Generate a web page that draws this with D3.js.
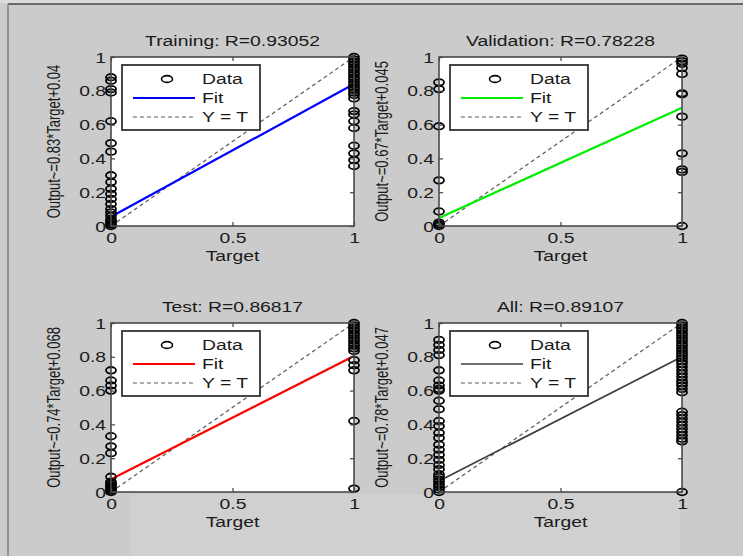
<!DOCTYPE html>
<html>
<head>
<meta charset="utf-8">
<script src="https://cdn.jsdelivr.net/npm/d3@7"></script>
<style>
  html, body { margin: 0; padding: 0; background: #cbcbcb; }
  svg { display: block; }
  text { font-family: "Liberation Sans", Arial, sans-serif; fill: #1a1a1a; }
</style>
</head>
<body>
<div id="chart"></div>
<script>
// values
const panelTitles = ["Training: R=0.93052", "Validation: R=0.78228", "Test: R=0.86817", "All: R=0.89107"];
const yLabels = ["Output~=0.83*Target+0.04", "Output~=0.67*Target+0.045", "Output~=0.74*Target+0.068", "Output~=0.78*Target+0.047"];
const fitColors = ["#0000ff", "#00ee00", "#ff0000", "#3c3c3c"];
const xTicks = [0, 0.5, 1];
const yTicks = [0, 0.2, 0.4, 0.6, 0.8, 1];
const legendLabels = ["Data", "Fit", "Y = T"];

// outputs at target 0 and target 1
const trainingAtZero = [0.88, 0.86, 0.81, 0.79, 0.62, 0.49, 0.44, 0.30, 0.26, 0.22, 0.19, 0.16, 0.13, 0.10, 0.08, 0.06, 0.04, 0.03, 0.02, 0.01, 0.0];
const trainingAtOne = [1.0, 0.985, 0.97, 0.955, 0.94, 0.925, 0.91, 0.895, 0.88, 0.865, 0.85, 0.835, 0.82, 0.805, 0.79, 0.775, 0.755, 0.68, 0.66, 0.62, 0.58, 0.475, 0.43, 0.39, 0.355];
const validationAtZero = [0.85, 0.81, 0.59, 0.27, 0.086, 0.02, 0.01, 0.0];
const validationAtOne = [0.99, 0.975, 0.96, 0.935, 0.90, 0.785, 0.78, 0.647, 0.43, 0.335, 0.32, 0.0];
const testAtZero = [0.72, 0.66, 0.63, 0.60, 0.33, 0.27, 0.23, 0.09, 0.06, 0.05, 0.04, 0.03, 0.02, 0.01, 0.0];
const testAtOne = [1.0, 0.985, 0.97, 0.955, 0.94, 0.925, 0.91, 0.895, 0.88, 0.865, 0.85, 0.835, 0.78, 0.75, 0.72, 0.42, 0.02];
const allAtZero = [0.90, 0.87, 0.84, 0.81, 0.72, 0.66, 0.63, 0.61, 0.60, 0.54, 0.49, 0.42, 0.39, 0.35, 0.32, 0.28, 0.25, 0.22, 0.19, 0.16, 0.135, 0.105, 0.09, 0.075, 0.06, 0.045, 0.03, 0.015, 0.0];
const allAtOne = [1.0, 0.985, 0.97, 0.955, 0.94, 0.925, 0.91, 0.895, 0.88, 0.865, 0.85, 0.835, 0.82, 0.805, 0.79, 0.775, 0.76, 0.74, 0.72, 0.70, 0.68, 0.66, 0.645, 0.63, 0.61, 0.59, 0.475, 0.455, 0.435, 0.415, 0.395, 0.375, 0.355, 0.335, 0.315, 0.30, 0.0];

// fit line output at target 0 and target 1
const fitEnds = [[0.055, 0.84], [0.047, 0.70], [0.075, 0.805], [0.065, 0.80]];

const atZero = [trainingAtZero, validationAtZero, testAtZero, allAtZero];
const atOne = [trainingAtOne, validationAtOne, testAtOne, allAtOne];

const W = 743, H = 556;
const SX = 1.38;       // the picture is stretched sideways
const FS = 14;

const svg = d3.select("#chart").append("svg").attr("width", W).attr("height", H);

// background and frame
svg.append("rect").attr("width", W).attr("height", H).attr("fill", "#cbcbcb");
svg.append("rect").attr("x", 130).attr("y", 494).attr("width", 550).attr("height", H - 494).attr("fill", "#d0d0d0");
svg.append("rect").attr("width", W).attr("height", 3).attr("fill", "#dcdcdc");
svg.append("line").attr("x1", 8).attr("x2", W).attr("y1", 4).attr("y2", 4)
  .attr("stroke", "#6a6a6a").attr("stroke-width", 2);
svg.append("line").attr("x1", 8).attr("x2", 8).attr("y1", 4).attr("y2", H)
  .attr("stroke", "#8a7d76").attr("stroke-width", 1.5);

function stretchedText(g, x, y, str, anchor, size) {
  return g.append("text")
    .attr("transform", `translate(${x},${y}) scale(${SX},1)`)
    .attr("text-anchor", anchor || "middle")
    .attr("font-size", size || FS)
    .text(str);
}

const colLeft = [111, 439];
const rowTop = [57, 323];
const pw = 243, ph = 169;
const fmt = d3.format("~g");

for (let i = 0; i < 4; i++) {
  const left = colLeft[i % 2], top = rowTop[Math.floor(i / 2)];
  const g = svg.append("g").attr("transform", `translate(${left},${top})`);
  const x = d3.scaleLinear().domain([0, 1]).range([0, pw]);
  const y = d3.scaleLinear().domain([0, 1]).range([ph, 0]);

  g.append("rect").attr("width", pw).attr("height", ph).attr("fill", "#fff");

  // Y = T
  g.append("line")
    .attr("x1", x(0)).attr("y1", y(0)).attr("x2", x(1)).attr("y2", y(1))
    .attr("stroke", "#5a5a5a").attr("stroke-width", 1.2).attr("stroke-dasharray", "4,3");

  // fit
  const line = d3.line().x((d) => x(d[0])).y((d) => y(d[1]));
  g.append("path")
    .datum([[0, fitEnds[i][0]], [1, fitEnds[i][1]]])
    .attr("d", line)
    .attr("fill", "none")
    .attr("stroke", fitColors[i])
    .attr("stroke-width", i === 3 ? 1.6 : 2.2);

  // data
  const pts = atZero[i].map((v) => [0, v]).concat(atOne[i].map((v) => [1, v]));
  g.selectAll("ellipse.pt").data(pts).enter().append("ellipse")
    .attr("class", "pt")
    .attr("cx", (d) => x(d[0]))
    .attr("cy", (d) => y(d[1]))
    .attr("rx", 5).attr("ry", 3.3)
    .attr("fill", "none")
    .attr("stroke", "#000")
    .attr("stroke-width", 1.8);

  // axes, ticks inward
  const axB = g.append("g").attr("transform", `translate(0,${ph})`)
    .call(d3.axisBottom(x).tickValues(xTicks).tickFormat(fmt).tickSize(-4).tickSizeOuter(0).tickPadding(7));
  const axL = g.append("g")
    .call(d3.axisLeft(y).tickValues(yTicks).tickFormat(fmt).tickSize(-4).tickSizeOuter(0));
  g.append("g").call(d3.axisTop(x).tickValues(xTicks).tickFormat("").tickSize(-4).tickSizeOuter(0));
  g.append("g").attr("transform", `translate(${pw},0)`)
    .call(d3.axisRight(y).tickValues(yTicks).tickFormat("").tickSize(-4).tickSizeOuter(0));
  g.selectAll(".domain").remove();
  g.selectAll(".tick line").attr("stroke", "#444").attr("stroke-width", 1.2);

  axB.selectAll("text").attr("font-size", FS).attr("font-family", null).attr("fill", "#1a1a1a")
    .attr("transform", `scale(${SX},1)`);
  axL.selectAll("text").attr("font-size", FS).attr("font-family", null).attr("fill", "#1a1a1a")
    .attr("x", -5 / SX).attr("dy", "0.36em")
    .attr("transform", `scale(${SX},1)`);

  g.append("rect").attr("width", pw).attr("height", ph)
    .attr("fill", "none").attr("stroke", "#4a4a4a").attr("stroke-width", 1.6);

  // labels
  stretchedText(g, pw / 2, -11, panelTitles[i]);
  stretchedText(g, pw / 2, ph + 35, "Target");
  g.append("text")
    .attr("transform", `translate(-57,${ph / 2}) rotate(-90) scale(1,${SX})`)
    .attr("text-anchor", "middle")
    .attr("dy", "0.35em")
    .attr("font-size", 13)
    .text(yLabels[i]);

  // legend
  const lg = g.append("g").attr("transform", "translate(11,8)");
  lg.append("rect").attr("width", 138).attr("height", 65)
    .attr("fill", "#fff").attr("stroke", "#333").attr("stroke-width", 1.8);
  const rows = [14, 33, 52];
  lg.append("ellipse").attr("cx", 45).attr("cy", rows[0]).attr("rx", 5.5).attr("ry", 3.4)
    .attr("fill", "none").attr("stroke", "#000").attr("stroke-width", 1.6);
  lg.append("line").attr("x1", 11).attr("x2", 73).attr("y1", rows[1]).attr("y2", rows[1])
    .attr("stroke", fitColors[i]).attr("stroke-width", i === 3 ? 1.6 : 2.2);
  lg.append("line").attr("x1", 11).attr("x2", 73).attr("y1", rows[2]).attr("y2", rows[2])
    .attr("stroke", "#5a5a5a").attr("stroke-width", 1.2).attr("stroke-dasharray", "4,3");
  legendLabels.forEach((t, k) => {
    stretchedText(lg, 80, rows[k] + 5, t, "start");
  });
}
</script>
</body>
</html>
